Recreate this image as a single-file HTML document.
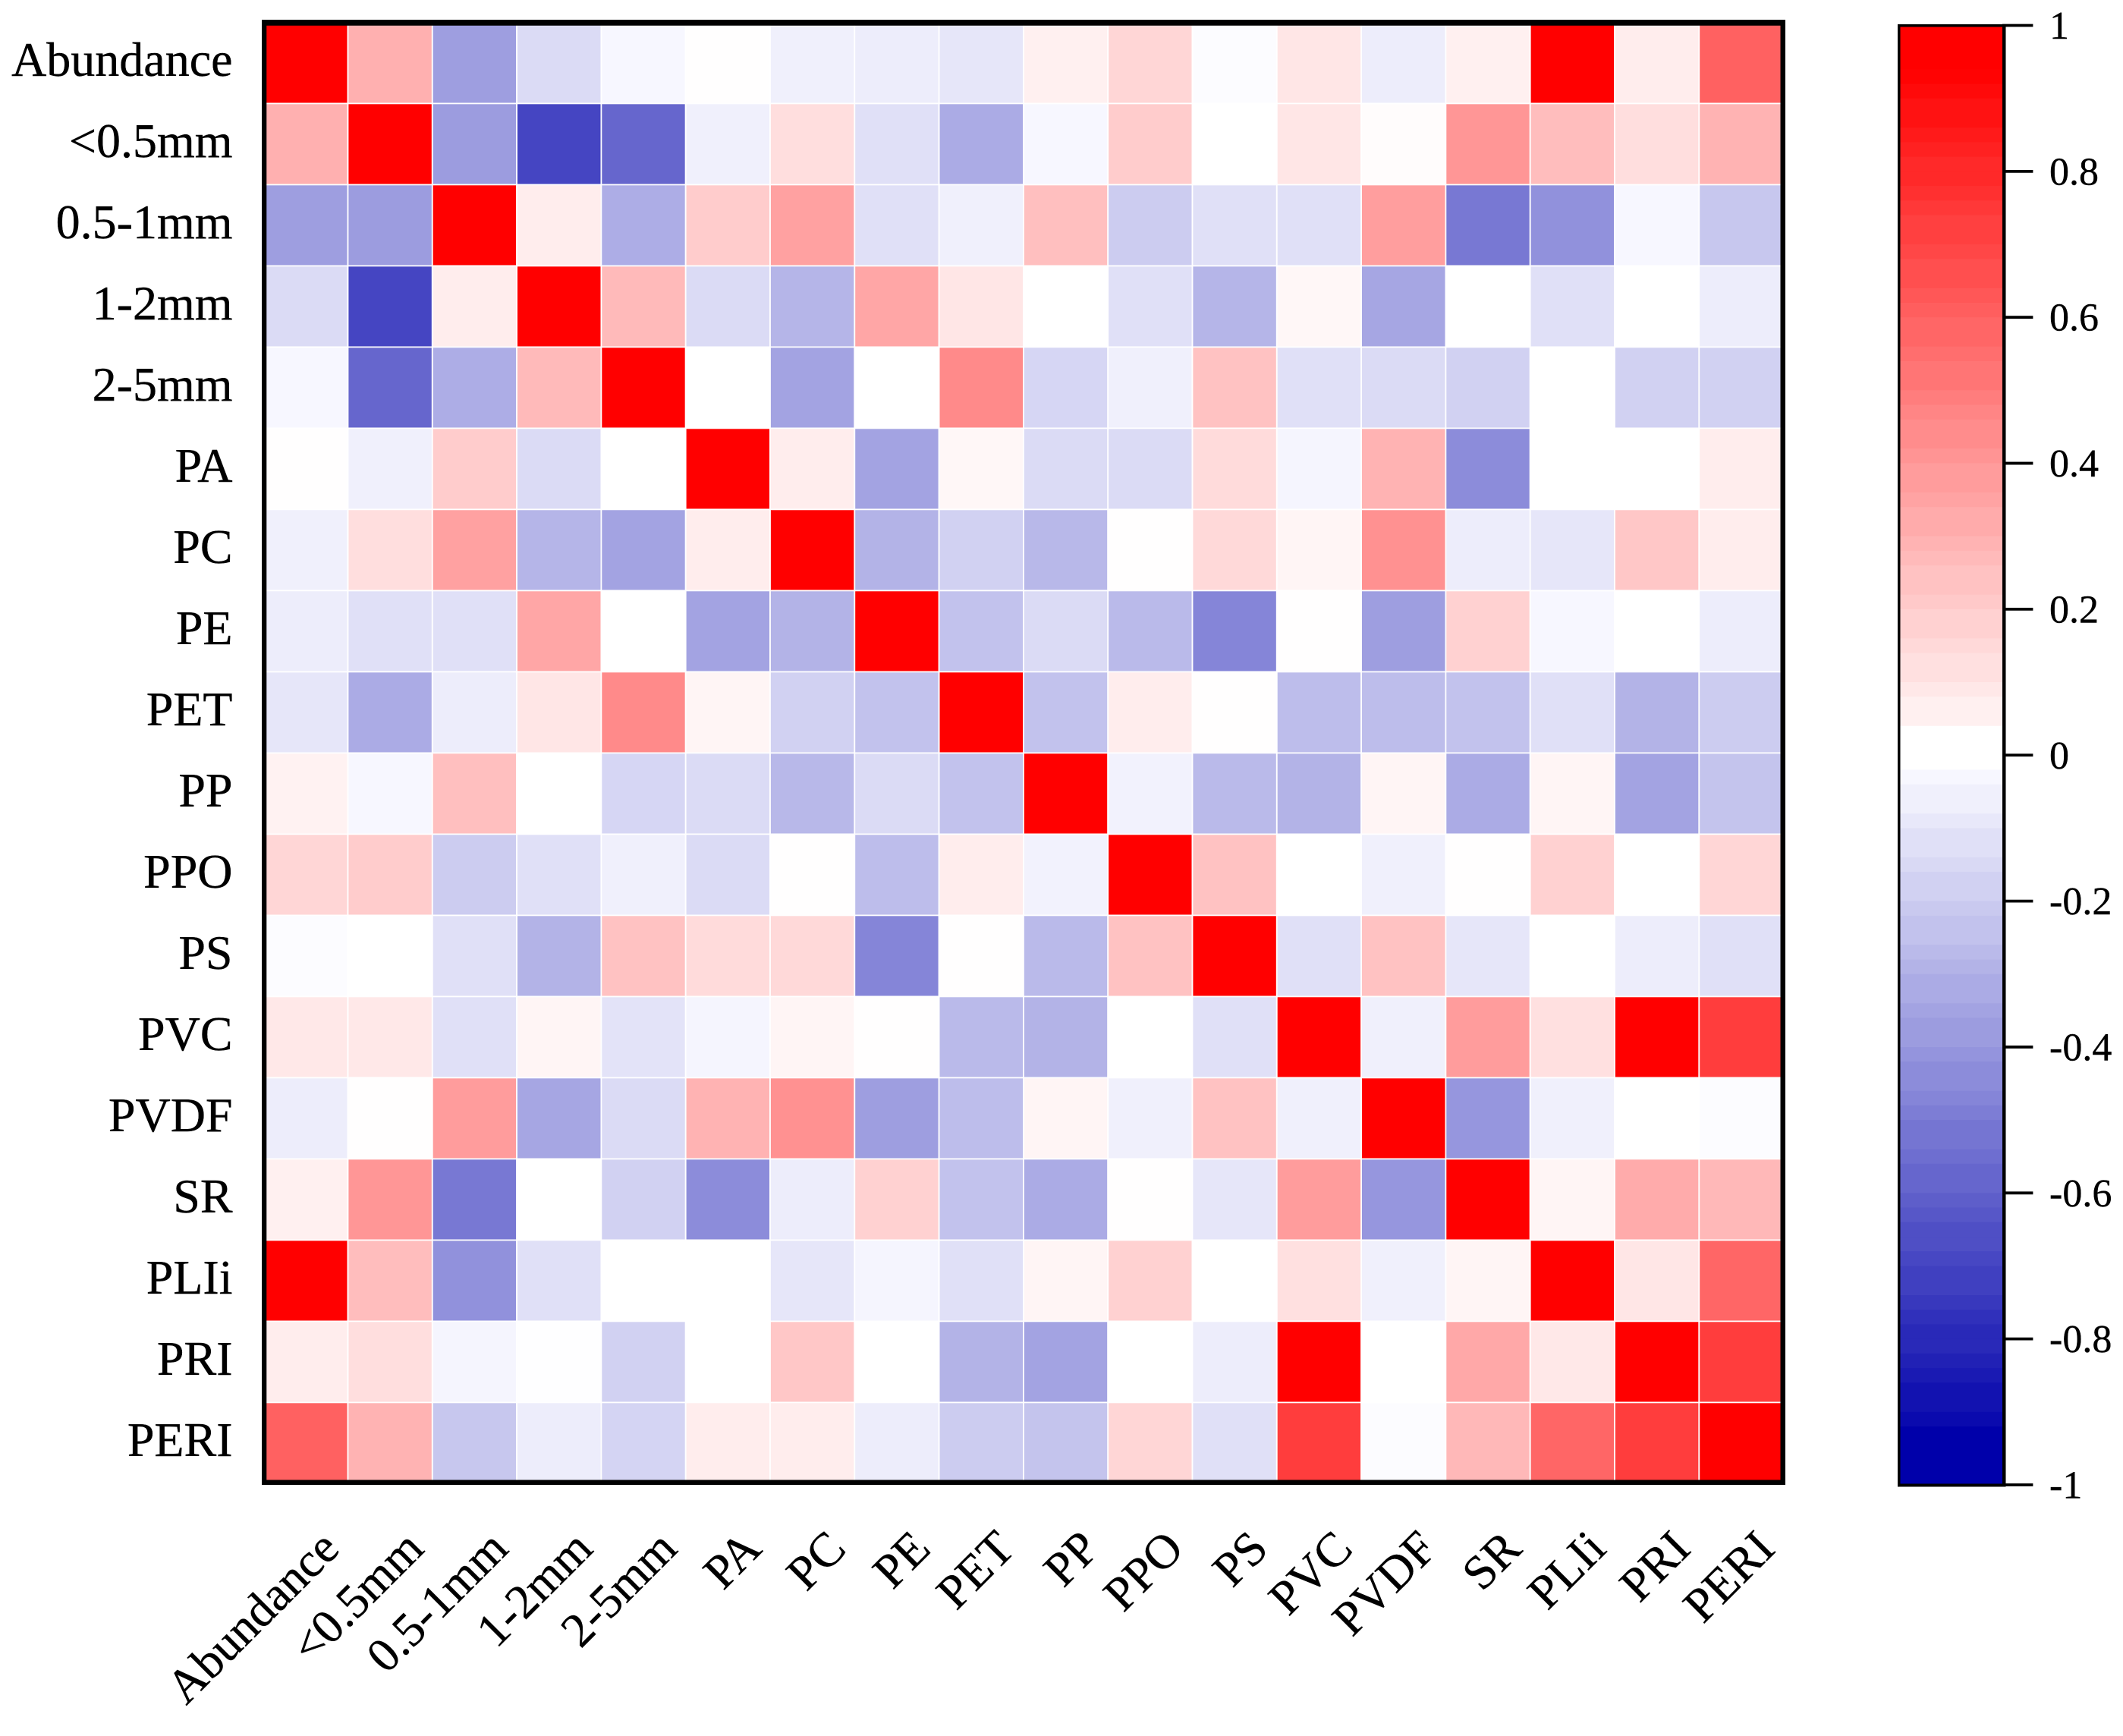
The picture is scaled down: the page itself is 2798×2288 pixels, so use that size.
<!DOCTYPE html>
<html lang="en">
<head>
<meta charset="utf-8">
<title>Correlation heatmap</title>
<style>
html,body{margin:0;padding:0;background:#fff;}
svg{display:block;}
text{font-family:"Liberation Serif","Times New Roman",serif;fill:#000;stroke:#000;stroke-width:0.4px;}
</style>
</head>
<body>
<svg id="chart" xmlns="http://www.w3.org/2000/svg" width="2798" height="2288" viewBox="0 0 2798 2288">
  <rect x="0" y="0" width="2798" height="2288" fill="#ffffff"/>
  <g id="cells"></g>
  <path fill="#000" fill-rule="evenodd" d="M345 26H2353V1957H345Z M351.3 33.7V1950.5H2346.5V33.7Z"/>
  <g id="ylabels"></g>
  <g id="xlabels"></g>
  <g id="colorbar"></g>
  <g id="cbticks"></g>
</svg>
<script>
const categories = ["Abundance","<0.5mm","0.5-1mm","1-2mm","2-5mm","PA","PC","PE","PET","PP","PPO","PS","PVC","PVDF","SR","PLIi","PRI","PERI"];
const correlations = [
[1,.31,-.38,-.14,-.03,.005,-.06,-.07,-.1,.06,.16,-.01,.1,-.07,.06,1,.07,.62],
[.31,1,-.39,-.73,-.6,-.06,.13,-.12,-.33,-.03,.2,0,.1,.01,.41,.26,.13,.3],
[-.38,-.39,1,.07,-.32,.2,.37,-.12,-.06,.25,-.2,-.12,-.12,.38,-.53,-.43,-.03,-.22],
[-.14,-.73,.07,1,.27,-.14,-.29,.35,.1,0,-.12,-.29,.03,-.35,0,-.12,0,-.07],
[-.03,-.6,-.32,.27,1,0,-.36,0,.46,-.16,-.06,.24,-.12,-.14,-.18,0,-.18,-.18],
[.005,-.06,.2,-.14,0,1,.07,-.36,.03,-.14,-.14,.14,-.04,.3,-.45,0,0,.07],
[-.06,.13,.37,-.29,-.36,.07,1,-.3,-.18,-.28,.005,.15,.04,.43,-.07,-.1,.22,.07],
[-.07,-.12,-.12,.35,0,-.36,-.3,1,-.24,-.14,-.27,-.48,.005,-.38,.18,-.03,0,-.07],
[-.1,-.33,-.07,.1,.46,.04,-.18,-.24,1,-.24,.07,.005,-.26,-.26,-.24,-.12,-.3,-.2],
[.05,-.03,.25,0,-.16,-.14,-.28,-.14,-.24,1,-.05,-.27,-.3,.04,-.33,.04,-.36,-.23],
[.16,.2,-.2,-.12,-.06,-.14,.005,-.26,.07,-.05,1,.24,0,-.06,.005,.18,0,.16],
[-.01,0,-.12,-.3,.24,.14,.15,-.48,.005,-.27,.24,1,-.12,.24,-.1,0,-.07,-.12],
[.09,.09,-.12,.04,-.11,-.04,.04,.005,-.27,-.3,0,-.12,1,-.06,.39,.12,1,.76],
[-.07,.005,.39,-.35,-.14,.3,.43,-.38,-.26,.04,-.06,.24,-.06,1,-.41,-.06,0,-.01],
[.06,.41,-.53,0,-.18,-.45,-.07,.18,-.24,-.33,.005,-.1,.39,-.41,1,.04,.33,.28],
[1,.26,-.43,-.12,0,0,-.1,-.04,-.12,.04,.18,0,.12,-.06,.04,1,.1,.6],
[.07,.13,-.04,-.005,-.18,0,.22,0,-.3,-.36,0,-.07,1,0,.34,.09,1,.76],
[.62,.3,-.22,-.07,-.17,.07,.07,-.07,-.2,-.23,.16,-.12,.76,-.01,.28,.6,.76,1]
];
const colorbarTicks = [1,0.8,0.6,0.4,0.2,0,-0.2,-0.4,-0.6,-0.8,-1];

const NS = "http://www.w3.org/2000/svg";
const X0 = 347.2, Y0 = 29.4, CW = 111.3, CH = 107;
const CB_TOP = 33.5, CB_BOTTOM = 1957, CB_L = 2503, CB_R = 2640;
function xScale(i){ return X0 + i * CW; }
function yScale(i){ return Y0 + i * CH; }
function cbScale(v){ return CB_TOP + (1 - v) / 2 * (CB_BOTTOM - CB_TOP); }
function color(v){
  const a = Math.min(1, Math.abs(v));
  const c = Math.round(255 * (1 - a));
  if (v >= 0) return "rgb(255," + c + "," + c + ")";
  return "rgb(" + c + "," + c + "," + Math.round(255 - 85 * Math.max(0, a - 0.03) / 0.97) + ")";
}
function make(tag, attrs){
  const el = document.createElementNS(NS, tag);
  for (const k in attrs) el.setAttribute(k, attrs[k]);
  return el;
}

const cellsG = document.getElementById("cells");
correlations.forEach(function(row, r){
  row.forEach(function(v, c){
    const cell = make("rect", {x: xScale(c), y: yScale(r), width: CW, height: CH, fill: color(v), stroke: "#ffffff", "stroke-width": 1.8});
    
    
    cellsG.appendChild(cell);
  });
});

const yG = document.getElementById("ylabels");
categories.forEach(function(name, i){
  const t = make("text", {x: 306.5, y: yScale(i) + 70.6, "text-anchor": "end", "font-size": 64});
  t.textContent = name;
  
  
  yG.appendChild(t);
});

const xG = document.getElementById("xlabels");
categories.forEach(function(name, i){
  const px = xScale(i) + CW / 2 + 47;
  const t = make("text", {transform: "translate(" + px + ",2044) rotate(-45)", "text-anchor": "end", "font-size": 63.5});
  t.textContent = name;
  
  
  xG.appendChild(t);
});

const cbG = document.getElementById("colorbar");
const BAND_COUNT = 100;
for (let i = 0; i < BAND_COUNT; i++) {
  const top = 1 - i * 2 / BAND_COUNT;
  const mid = top - 1 / BAND_COUNT;
  let q = Math.round(mid * (1 + 0.06 * Math.abs(mid)) / 0.03) * 0.03;
  if (mid < 0.04 && mid > -0.02) q = 0;
  if (mid > 0.94) q = 1;
  if (mid < -0.92) q = -1;
  const band = make("rect", {x: CB_L, y: cbScale(top), width: CB_R - CB_L, height: cbScale(top - 2 / BAND_COUNT) - cbScale(top) + 0.5, fill: color(q)});
  
  
  cbG.appendChild(band);
}
const cbFrame = make("path", {fill: "#000", "fill-rule": "evenodd", d: "M2501 32H2643.5V1959.5H2501Z M2504.5 35.5V1955.5H2639V35.5Z"});


cbG.appendChild(cbFrame);

const tickG = document.getElementById("cbticks");
colorbarTicks.forEach(function(v){
  const y = cbScale(v);
  const line = make("line", {x1: 2639, x2: 2679.4, y1: y, y2: y, stroke: "#000", "stroke-width": 3.8});
  
  
  tickG.appendChild(line);
  const t = make("text", {x: 2701, y: y + 17.5, "font-size": 52});
  t.textContent = String(v);
  
  
  tickG.appendChild(t);
});
</script>
</body>
</html>
